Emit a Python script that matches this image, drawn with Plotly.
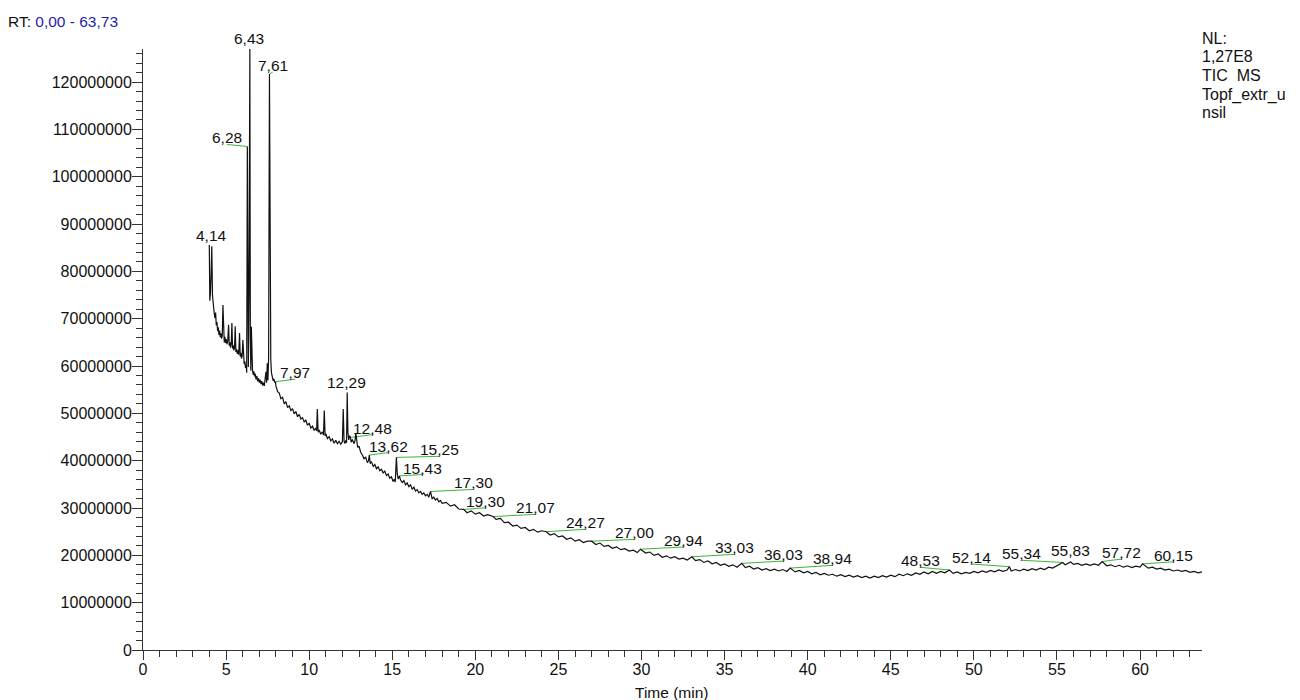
import plotly.graph_objects as go

# ---------------- DATA ----------------
rt_min = [
    3.99, 4.02, 4.06, 4.10, 4.14, 4.18, 4.21, 4.25, 4.29, 4.33,
    4.37, 4.41, 4.45, 4.49, 4.53, 4.57, 4.61, 4.65, 4.69, 4.73,
    4.77, 4.81, 4.85, 4.89, 4.93, 4.97, 5.01, 5.05, 5.10, 5.15,
    5.19, 5.23, 5.27, 5.31, 5.35, 5.39, 5.43, 5.47, 5.51, 5.55,
    5.59, 5.63, 5.67, 5.71, 5.76, 5.81, 5.85, 5.89, 5.93, 5.97,
    6.01, 6.05, 6.09, 6.13, 6.17, 6.21, 6.24, 6.28, 6.31, 6.34,
    6.38, 6.43, 6.46, 6.49, 6.52, 6.55, 6.59, 6.63, 6.67, 6.71,
    6.75, 6.80, 6.85, 6.90, 6.95, 7.00, 7.05, 7.10, 7.15, 7.20,
    7.25, 7.30, 7.35, 7.40, 7.44, 7.48, 7.52, 7.56, 7.61, 7.65,
    7.69, 7.73, 7.78, 7.83, 7.88, 7.93, 7.97,
    8.0, 8.1, 8.2, 8.3, 8.4, 8.5, 8.6, 8.7, 8.8, 8.9,
    9.0, 9.1, 9.2, 9.3, 9.4, 9.5, 9.6, 9.7, 9.8, 9.9,
    10.0, 10.1, 10.2, 10.3, 10.4, 10.45, 10.49, 10.54, 10.6, 10.7,
    10.8, 10.86, 10.91, 10.96, 11.0, 11.1, 11.2, 11.3, 11.4, 11.5,
    11.6, 11.7, 11.8, 11.9, 12.0, 12.05, 12.1, 12.15, 12.2, 12.25,
    12.29, 12.33, 12.38, 12.43, 12.48, 12.53, 12.6, 12.7, 12.76, 12.81,
    12.86, 12.92, 13.0, 13.1, 13.2, 13.3, 13.4, 13.5, 13.57, 13.62,
    13.67, 13.75, 13.85, 13.95, 14.05, 14.15, 14.25, 14.35, 14.45, 14.55,
    14.65, 14.75, 14.85, 14.95, 15.05, 15.12, 15.18, 15.25, 15.30, 15.36,
    15.43, 15.5, 15.6, 15.7, 15.8, 15.9, 16.0, 16.1, 16.2, 16.3,
    16.4, 16.5, 16.6, 16.7, 16.8, 16.9, 17.0, 17.1, 17.2, 17.3,
    17.4, 17.5, 17.6, 17.7, 17.8, 17.9,
    18.00, 18.25, 18.50, 18.75, 19.00, 19.30, 19.50, 19.75, 20.00, 20.25,
    20.50, 20.75, 21.07, 21.25, 21.50, 21.75, 22.00, 22.25, 22.50, 22.75,
    23.00, 23.25, 23.50, 23.75, 24.00, 24.27, 24.50, 24.75, 25.00, 25.25,
    25.50, 25.75, 26.00, 26.25, 26.50, 26.75, 27.00, 27.25, 27.50, 27.75,
    28.00, 28.25, 28.50, 28.75, 29.00, 29.25, 29.50, 29.75, 29.94, 30.25,
    30.50, 30.75, 31.00, 31.25, 31.50, 31.75, 32.00, 32.25, 32.50, 32.75,
    33.03, 33.25, 33.50, 33.75, 34.00, 34.25, 34.50, 34.75, 35.00, 35.25,
    35.50, 35.75, 36.03, 36.25, 36.50, 36.75, 37.00, 37.25, 37.50, 37.75,
    38.00, 38.25, 38.50, 38.75, 38.94, 39.25, 39.50, 39.75, 40.00, 40.25,
    40.50, 40.75, 41.00, 41.25, 41.50, 41.75, 42.00, 42.25, 42.50, 42.75,
    43.00, 43.25, 43.50, 43.75, 44.00, 44.25, 44.50, 44.75, 45.00, 45.25,
    45.50, 45.75, 46.00, 46.25, 46.50, 46.75, 47.00, 47.25, 47.50, 47.75,
    48.00, 48.25, 48.53, 48.75, 49.00, 49.25, 49.50, 49.75, 50.00, 50.25,
    50.50, 50.75, 51.00, 51.25, 51.50, 51.75, 52.00, 52.14, 52.25, 52.50,
    52.75, 53.00, 53.25, 53.50, 53.75, 54.00, 54.25, 54.50, 54.75, 55.00,
    55.34, 55.50, 55.65, 55.83, 56.00, 56.25, 56.50, 56.75, 57.00, 57.25,
    57.50, 57.72, 58.00, 58.25, 58.50, 58.75, 59.00, 59.25, 59.50, 59.75,
    60.00, 60.15, 60.50, 60.75, 61.00, 61.25, 61.50, 61.75, 62.00, 62.25,
    62.50, 62.75, 63.00, 63.25, 63.50, 63.73,
]

tic_million = [
    85.6, 73.8, 75.5, 79.5, 85.3, 75.0, 73.2, 72.6, 71.0, 70.1,
    71.3, 68.6, 69.3, 67.4, 68.2, 66.6, 67.5, 66.1, 66.9, 65.8,
    66.4, 72.9, 65.9, 65.0, 66.2, 64.9, 65.7, 64.6, 65.3, 68.7,
    64.3, 65.0, 63.9, 64.6, 69.1, 63.7, 64.4, 63.3, 63.9, 68.4,
    63.0, 63.6, 62.6, 63.3, 62.4, 67.0, 62.0, 62.8, 61.6, 62.2,
    65.5, 61.2, 60.4, 61.0, 59.6, 60.3, 58.6, 106.4, 72.0, 59.8,
    75.0, 127.0, 66.0, 59.0, 68.3, 60.2, 59.1, 58.2, 58.9, 57.8,
    58.4, 57.2, 57.9, 56.8, 57.4, 56.5, 57.1, 56.2, 56.8, 55.9,
    56.5, 55.8, 57.5, 58.8, 56.5, 60.6, 57.0, 62.0, 121.7, 75.0,
    61.3, 58.6, 57.5, 56.9, 57.3, 56.5, 56.7,
    55.8, 54.6, 54.3, 53.1, 53.4, 52.0, 52.5, 51.2, 51.6, 50.6,
    51.0, 49.9, 50.4, 49.3, 49.8, 48.8, 49.1, 48.2, 48.6, 47.5,
    47.9, 46.9, 47.3, 46.4, 46.9, 46.3, 50.9, 46.0, 46.5, 45.6,
    46.1, 45.4, 50.6, 45.2, 45.7, 44.7, 45.1, 44.2, 44.6, 43.7,
    44.3, 43.6, 44.1, 43.5, 44.0, 50.9, 44.1, 43.6, 44.3, 43.8,
    54.4, 46.0, 44.4, 45.3, 44.9, 43.9, 44.5, 43.6, 44.2, 45.8,
    43.5, 42.8, 43.1, 41.8, 41.2, 40.4, 40.8, 39.6, 40.0, 41.2,
    39.4, 39.8, 38.8, 39.2, 38.3, 38.7, 37.9, 38.2, 37.4, 37.8,
    36.9, 37.2, 36.3, 36.6, 35.6, 36.1, 35.5, 40.7, 37.2, 36.1,
    36.8, 35.9, 35.4, 35.8, 34.9, 35.3, 34.5, 34.9, 34.0, 34.4,
    33.6, 33.9, 33.2, 33.5, 32.9, 33.2, 32.6, 32.9, 32.3, 33.5,
    32.0, 32.3, 31.7, 32.0, 31.3, 31.6,
    31.0, 31.2, 30.4, 30.7, 29.8, 29.7, 29.0, 29.4, 28.7, 29.0,
    28.3, 28.6, 28.2, 27.6, 27.8, 26.9, 27.0, 26.2, 26.4, 25.7,
    25.9, 25.2, 25.5, 24.9, 25.2, 25.0, 24.3, 24.6, 23.9, 24.1,
    23.4, 23.7, 23.0, 23.3, 22.7, 23.0, 23.0, 22.3, 22.6, 21.9,
    22.1, 21.5, 21.8, 21.2, 21.4, 20.9, 21.1, 20.6, 21.3, 20.5,
    20.7, 20.0, 20.3, 19.6, 19.9, 19.4, 19.7, 19.2, 19.4, 19.0,
    19.7, 18.9, 19.1, 18.5, 18.8, 18.2, 18.5, 17.9, 18.2, 17.7,
    18.0, 17.5, 18.3, 17.4, 17.7, 17.1, 17.4, 16.9, 17.2, 16.8,
    17.1, 16.7, 17.0, 16.6, 17.3, 16.5, 16.8, 16.3, 16.6, 16.1,
    16.4, 15.9, 16.2, 15.8, 16.0, 15.6, 15.9, 15.5, 15.8, 15.4,
    15.7, 15.3, 15.6, 15.2, 15.6, 15.3, 15.7, 15.4, 15.8, 15.5,
    16.0, 15.7, 16.1, 15.8, 16.3, 16.0, 16.5, 16.1, 16.6, 16.2,
    16.6, 16.3, 16.9, 16.2, 16.5, 16.1, 16.4, 16.2, 16.6, 16.3,
    16.7, 16.4, 16.8, 16.5, 16.9, 16.6, 16.9, 17.6, 16.7, 17.0,
    16.7, 17.1, 16.8, 17.2, 16.9, 17.3, 17.0, 17.5, 17.3, 17.8,
    18.5, 18.0, 18.2, 18.6, 18.1, 18.3, 17.9, 18.2, 17.9, 18.2,
    17.9, 18.7, 17.8, 18.0, 17.6, 17.9, 17.5, 17.8, 17.4, 17.7,
    17.5, 18.2, 17.3, 17.5, 17.1, 17.3, 16.9, 17.1, 16.7, 16.9,
    16.6, 16.8, 16.4, 16.6, 16.3, 16.5,
]

# labelled peaks (retention time in min, apex intensity in millions)
peak_rt = [4.14, 6.28, 6.43, 7.61, 7.97, 12.29, 12.48, 13.62, 15.25, 15.43,
           17.30, 19.30, 21.07, 24.27, 27.00, 29.94, 33.03, 36.03, 38.94,
           48.53, 52.14, 55.34, 55.83, 57.72, 60.15]
peak_million = [85.3, 106.4, 127.0, 121.7, 56.7, 54.4, 44.9, 41.2, 40.7, 36.8,
                33.5, 29.7, 28.2, 25.0, 23.0, 21.3, 19.7, 18.3, 17.3,
                16.9, 17.6, 18.5, 18.6, 18.7, 18.2]

x_ticks = [0, 5, 10, 15, 20, 25, 30, 35, 40, 45, 50, 55, 60]

# ---------------- LAYOUT ----------------
W, H = 1300, 700
ML, MR, MT, MB = 143, 98, 49, 50
X_MAX = 63.73
Y_MAX = 127e6
PLOT_W = W - ML - MR
PLOT_H = H - MT - MB

# label placement (centre of label, in data units) -- layout, not data
label_pos_x = [4.11, 5.05, 6.37, 7.81, 9.16, 12.27, 13.83, 14.76, 17.84, 16.84,
               19.89, 20.64, 23.65, 26.61, 29.57, 32.53, 35.61, 38.57, 41.50,
               46.77, 49.88, 52.89, 55.81, 58.90, 62.01]
label_pos_y = [87.6, 108.2, 129.3, 123.5, 58.6, 56.45, 46.9, 43.1, 42.3, 38.45,
               35.3, 31.44, 30.04, 26.87, 24.76, 23.14, 21.59, 20.18, 19.27,
               18.85, 19.54, 20.33, 21.02, 20.6, 20.0]

FONT = "Liberation Sans, Arial, sans-serif"
FS = 15.5
FS_TICK = 16
LEADER_GREEN = "#3cb43c"
AXIS_COL = "#333333"
TEXT_COL = "#111111"

def px_x(px):
    return (px - ML) / PLOT_W

def px_y(py):
    return (H - MB - py) / PLOT_H

y_per_px = Y_MAX / PLOT_H

fig = go.Figure()

# leader lines from each peak apex to its label
lx, ly = [], []
for rt, pk, ax, ay in zip(peak_rt, peak_million, label_pos_x, label_pos_y):
    if abs(ax - rt) > 0.15:
        lx += [rt, ax, None]
        ly += [pk * 1e6, ay * 1e6 - 6.5 * y_per_px, None]
fig.add_trace(go.Scatter(x=lx, y=ly, mode="lines",
                         line=dict(color=LEADER_GREEN, width=1),
                         hoverinfo="skip", showlegend=False, cliponaxis=False))

fig.add_trace(go.Scatter(x=rt_min, y=[v * 1e6 for v in tic_million],
                         mode="lines", line=dict(color="#111111", width=1.2),
                         hoverinfo="skip", showlegend=False, cliponaxis=False))

annotations = []
for rt, ax, ay in zip(peak_rt, label_pos_x, label_pos_y):
    annotations.append(dict(
        x=ax / X_MAX, y=ay * 1e6 / Y_MAX, xref="paper", yref="paper",
        text=f"{rt:.2f}".replace(".", ","), showarrow=False,
        xanchor="center", yanchor="middle",
        font=dict(family=FONT, size=FS, color=TEXT_COL)))

annotations.append(dict(
    x=px_x(6), y=px_y(21), xref="paper", yref="paper",
    text='RT: <span style="color:#1f1fa8">0,00 - 63,73</span>',
    showarrow=False, xanchor="left", yanchor="middle",
    font=dict(family=FONT, size=FS, color=TEXT_COL)))

nl_lines = ["NL:", "1,27E8", "TIC  MS", "Topf_extr_u", "nsil"]
nl_y = [38, 57, 76, 95, 112]
for t, yy in zip(nl_lines, nl_y):
    annotations.append(dict(
        x=px_x(1200), y=px_y(yy), xref="paper", yref="paper",
        text=t.replace("  ", "&nbsp;&nbsp;"), showarrow=False,
        xanchor="left", yanchor="middle",
        font=dict(family=FONT, size=16, color=TEXT_COL)))

annotations.append(dict(
    x=px_x(671.7), y=px_y(692.7), xref="paper", yref="paper",
    text="Time (min)", showarrow=False, xanchor="center", yanchor="middle",
    font=dict(family=FONT, size=FS, color=TEXT_COL)))

fig.update_layout(
    width=W, height=H,
    margin=dict(l=ML, r=MR, t=MT, b=MB, pad=0),
    paper_bgcolor="white", plot_bgcolor="white",
    showlegend=False, hovermode=False,
    annotations=annotations,
    font=dict(family=FONT, size=FS, color=TEXT_COL),
)

fig.update_xaxes(
    range=[0, X_MAX], tickmode="array", tickvals=x_ticks,
    ticktext=[str(v) for v in x_ticks],
    ticks="outside", ticklen=9, tickwidth=1, tickcolor=AXIS_COL,
    minor=dict(dtick=1, tick0=0, ticks="outside", ticklen=6, tickcolor=AXIS_COL, tickwidth=1),
    showline=True, linecolor=AXIS_COL, linewidth=1,
    showgrid=False, zeroline=False, ticklabelstandoff=-4,
    tickfont=dict(family=FONT, size=FS_TICK, color=TEXT_COL),
)

fig.update_yaxes(
    range=[0, Y_MAX], dtick=1e7, tick0=0, tickformat="d",
    ticks="outside", ticklen=10, tickwidth=1, tickcolor=AXIS_COL,
    minor=dict(dtick=2e6, tick0=0, ticks="outside", ticklen=6, tickcolor=AXIS_COL, tickwidth=1),
    showline=True, linecolor=AXIS_COL, linewidth=1,
    showgrid=False, zeroline=False, ticklabelstandoff=-3,
    tickfont=dict(family=FONT, size=FS_TICK, color=TEXT_COL),
)

fig.write_html("out.html", config={"displayModeBar": False},
               post_script="document.body.style.margin='0px';document.body.style.overflow='hidden';")
